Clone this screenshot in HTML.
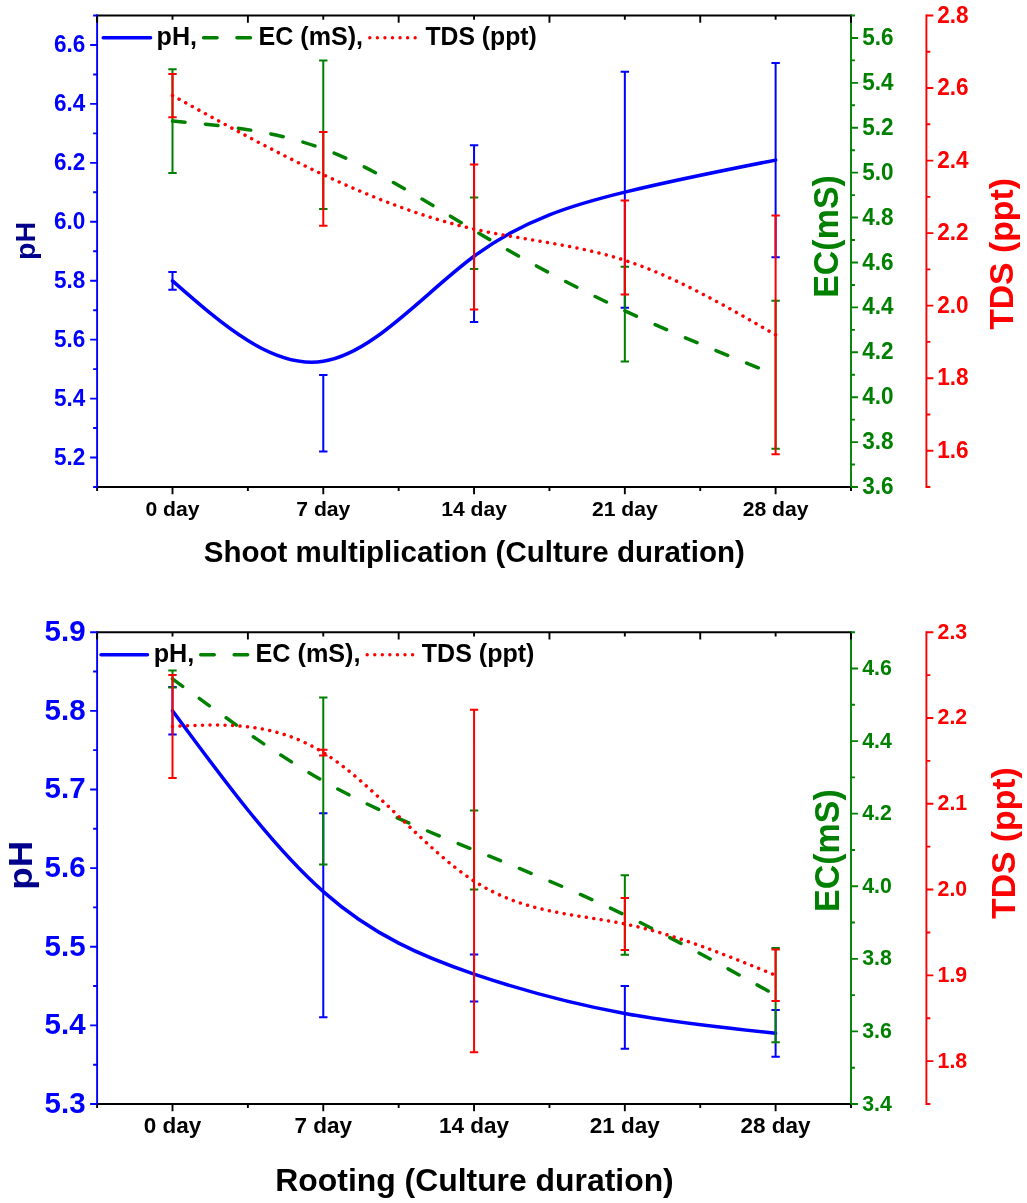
<!DOCTYPE html>
<html><head><meta charset="utf-8"><title>Culture duration charts</title>
<style>html,body{margin:0;padding:0;background:#fff}svg{display:block}</style></head>
<body>
<svg width="1027" height="1203" viewBox="0 0 1027 1203" font-family="'Liberation Sans', sans-serif" font-weight="bold">
<rect width="1027" height="1203" fill="#fff"/>
<path d="M172.5 280.9C222.76 325.03 273.02 369.17 323.28 361.29C373.54 353.42 423.8 293.53 474.06 256.28C524.32 219.02 574.58 204.38 624.84 192.12C675.1 179.87 725.36 169.98 775.62 160.1" fill="none" stroke="#0000ff" stroke-width="3.5" stroke-linecap="round" stroke-linejoin="round"/>
<path d="M172.5 272V289.8M168.3 272h8.4M168.3 289.8h8.4M323.28 375V451.6M319.08 375h8.4M319.08 451.6h8.4M474.06 145.3V322M469.86 145.3h8.4M469.86 322h8.4M624.84 71.8V307.7M620.64 71.8h8.4M620.64 307.7h8.4M775.62 63V257.2M771.42 63h8.4M771.42 257.2h8.4" fill="none" stroke="#0000ff" stroke-width="2"/>
<path d="M172.5 121.05C222.76 125.62 273.02 130.18 323.28 148.9C373.54 167.62 423.8 200.48 474.06 230.38C524.32 260.28 574.58 287.22 624.84 310.78C675.1 334.35 725.36 354.55 775.62 374.75" fill="none" stroke="#008000" stroke-width="3.5" stroke-linecap="round" stroke-linejoin="round" stroke-dasharray="12.6 20.5"/>
<path d="M172.5 69.2V172.9M168.3 69.2h8.4M168.3 172.9h8.4M323.28 60.5V209M319.08 60.5h8.4M319.08 209h8.4M474.06 197.6V269.1M469.86 197.6h8.4M469.86 269.1h8.4M624.84 266.8V361.5M620.64 266.8h8.4M620.64 361.5h8.4M775.62 300.7V448.8M771.42 300.7h8.4M771.42 448.8h8.4" fill="none" stroke="#008000" stroke-width="2"/>
<path d="M172.5 95.55C222.76 123.33 273.02 151.12 323.28 174.7C373.54 198.28 423.8 217.67 474.06 229.11C524.32 240.55 574.58 244.05 624.84 260.36C675.1 276.67 725.36 305.78 775.62 334.9" fill="none" stroke="#ff0000" stroke-width="3.5" stroke-linecap="round" stroke-linejoin="round" stroke-dasharray="0.01 7.5"/>
<path d="M172.5 73.9V117.2M168.3 73.9h8.4M168.3 117.2h8.4M323.28 132V225.8M319.08 132h8.4M319.08 225.8h8.4M474.06 164.6V309.5M469.86 164.6h8.4M469.86 309.5h8.4M624.84 200.5V294.6M620.64 200.5h8.4M620.64 294.6h8.4M775.62 215.5V454.3M771.42 215.5h8.4M771.42 454.3h8.4" fill="none" stroke="#ff0000" stroke-width="2"/>
<path d="M96.15 15.5H851.95M96.15 487H851.95" stroke="#000" stroke-width="1.9"/>
<path d="M97.1 14.55V487.95" stroke="#0000ff" stroke-width="1.9"/>
<path d="M851 14.55V487.95" stroke="#008000" stroke-width="1.9"/>
<path d="M926.4 14.55V487.95" stroke="#ff0000" stroke-width="1.9"/>
<path d="M172.5 487v7.2M172.5 15.5v4.2M323.28 487v7.2M323.28 15.5v4.2M474.06 487v7.2M474.06 15.5v4.2M624.84 487v7.2M624.84 15.5v4.2M775.62 487v7.2M775.62 15.5v4.2M97.11 487v4M97.11 15.5v7.2M247.89 487v4M247.89 15.5v7.2M398.67 487v4M398.67 15.5v7.2M549.45 487v4M549.45 15.5v7.2M700.23 487v4M700.23 15.5v7.2M851.01 487v4M851.01 15.5v7.2" stroke="#000" stroke-width="1.9"/>
<text transform="translate(172.5 515.8) scale(1.007 1)" text-anchor="middle" font-size="21" fill="#000">0 day</text>
<text transform="translate(323.28 515.8) scale(1.007 1)" text-anchor="middle" font-size="21" fill="#000">7 day</text>
<text transform="translate(474.06 515.8) scale(1.007 1)" text-anchor="middle" font-size="21" fill="#000">14 day</text>
<text transform="translate(624.84 515.8) scale(1.007 1)" text-anchor="middle" font-size="21" fill="#000">21 day</text>
<text transform="translate(775.62 515.8) scale(1.007 1)" text-anchor="middle" font-size="21" fill="#000">28 day</text>
<text transform="translate(85.3 464.53) scale(0.98 1)" text-anchor="end" font-size="23" fill="#0000ff">5.2</text>
<text transform="translate(85.3 405.59) scale(0.98 1)" text-anchor="end" font-size="23" fill="#0000ff">5.4</text>
<text transform="translate(85.3 346.66) scale(0.98 1)" text-anchor="end" font-size="23" fill="#0000ff">5.6</text>
<text transform="translate(85.3 287.72) scale(0.98 1)" text-anchor="end" font-size="23" fill="#0000ff">5.8</text>
<text transform="translate(85.3 228.78) scale(0.98 1)" text-anchor="end" font-size="23" fill="#0000ff">6.0</text>
<text transform="translate(85.3 169.84) scale(0.98 1)" text-anchor="end" font-size="23" fill="#0000ff">6.2</text>
<text transform="translate(85.3 110.91) scale(0.98 1)" text-anchor="end" font-size="23" fill="#0000ff">6.4</text>
<text transform="translate(85.3 51.97) scale(0.98 1)" text-anchor="end" font-size="23" fill="#0000ff">6.6</text>
<path d="M97.1 487h-3.95M97.1 457.53h-6.95M97.1 428.06h-3.95M97.1 398.59h-6.95M97.1 369.12h-3.95M97.1 339.66h-6.95M97.1 310.19h-3.95M97.1 280.72h-6.95M97.1 251.25h-3.95M97.1 221.78h-6.95M97.1 192.31h-3.95M97.1 162.84h-6.95M97.1 133.38h-3.95M97.1 103.91h-6.95M97.1 74.44h-3.95M97.1 44.97h-6.95M97.1 15.5h-3.95" stroke="#0000ff" stroke-width="1.9"/>
<text transform="translate(862.3 494.1) scale(0.98 1)" font-size="23" fill="#008000">3.6</text>
<text transform="translate(862.3 449.2) scale(0.98 1)" font-size="23" fill="#008000">3.8</text>
<text transform="translate(862.3 404.29) scale(0.98 1)" font-size="23" fill="#008000">4.0</text>
<text transform="translate(862.3 359.39) scale(0.98 1)" font-size="23" fill="#008000">4.2</text>
<text transform="translate(862.3 314.48) scale(0.98 1)" font-size="23" fill="#008000">4.4</text>
<text transform="translate(862.3 269.58) scale(0.98 1)" font-size="23" fill="#008000">4.6</text>
<text transform="translate(862.3 224.67) scale(0.98 1)" font-size="23" fill="#008000">4.8</text>
<text transform="translate(862.3 179.77) scale(0.98 1)" font-size="23" fill="#008000">5.0</text>
<text transform="translate(862.3 134.86) scale(0.98 1)" font-size="23" fill="#008000">5.2</text>
<text transform="translate(862.3 89.96) scale(0.98 1)" font-size="23" fill="#008000">5.4</text>
<text transform="translate(862.3 45.05) scale(0.98 1)" font-size="23" fill="#008000">5.6</text>
<path d="M851 487h6.95M851 464.55h3.95M851 442.1h6.95M851 419.64h3.95M851 397.19h6.95M851 374.74h3.95M851 352.29h6.95M851 329.83h3.95M851 307.38h6.95M851 284.93h3.95M851 262.48h6.95M851 240.02h3.95M851 217.57h6.95M851 195.12h3.95M851 172.67h6.95M851 150.21h3.95M851 127.76h6.95M851 105.31h3.95M851 82.86h6.95M851 60.4h3.95M851 37.95h6.95M851 15.5h3.95" stroke="#008000" stroke-width="1.9"/>
<text transform="translate(937.3 457.83) scale(0.98 1)" font-size="23" fill="#ff0000">1.6</text>
<text transform="translate(937.3 385.29) scale(0.98 1)" font-size="23" fill="#ff0000">1.8</text>
<text transform="translate(937.3 312.75) scale(0.98 1)" font-size="23" fill="#ff0000">2.0</text>
<text transform="translate(937.3 240.22) scale(0.98 1)" font-size="23" fill="#ff0000">2.2</text>
<text transform="translate(937.3 167.68) scale(0.98 1)" font-size="23" fill="#ff0000">2.4</text>
<text transform="translate(937.3 95.14) scale(0.98 1)" font-size="23" fill="#ff0000">2.6</text>
<text transform="translate(937.3 22.6) scale(0.98 1)" font-size="23" fill="#ff0000">2.8</text>
<path d="M926.4 487h3.95M926.4 450.73h6.95M926.4 414.46h3.95M926.4 378.19h6.95M926.4 341.92h3.95M926.4 305.65h6.95M926.4 269.38h3.95M926.4 233.12h6.95M926.4 196.85h3.95M926.4 160.58h6.95M926.4 124.31h3.95M926.4 88.04h6.95M926.4 51.77h3.95M926.4 15.5h6.95" stroke="#ff0000" stroke-width="1.9"/>
<text transform="translate(35 240.8) rotate(-90) scale(1.03 1)" text-anchor="middle" font-size="27.8" fill="#00008b">pH</text>
<text transform="translate(838 236.5) rotate(-90) scale(0.985 1)" text-anchor="middle" font-size="34.5" fill="#008000">EC(mS)</text>
<text transform="translate(1013.3 254) rotate(-90) scale(1.007 1)" text-anchor="middle" font-size="33.5" fill="#ff0000">TDS (ppt)</text>
<text transform="translate(203.8 562.1) scale(1.018 1)" font-size="29" fill="#000">Shoot multiplication (Culture duration)</text>
<path d="M103.2 37.7H150.6" stroke="#0000ff" stroke-width="3.4" stroke-linecap="round"/>
<text transform="translate(156.6 44.8) scale(0.996 1)" font-size="25.2" fill="#000">pH,</text>
<path d="M203.5 37.7H253.5" stroke="#008000" stroke-width="3.4" stroke-linecap="round" stroke-dasharray="13.6 19.8"/>
<text transform="translate(258.5 44.8) scale(0.996 1)" font-size="25.2" fill="#000">EC (mS),</text>
<path d="M369.8 37.7H415.8" stroke="#ff0000" stroke-width="3.4" stroke-linecap="round" stroke-dasharray="0.01 7.55"/>
<text transform="translate(425.5 44.8) scale(0.982 1)" font-size="25.2" fill="#000">TDS (ppt)</text>
<path d="M172.5 710.75C222.76 778.9 273.02 847.05 323.28 891.58C373.54 936.12 423.8 957.03 474.06 974.07C524.32 991.1 574.58 1004.25 624.84 1013.48C675.1 1022.7 725.36 1028 775.62 1033.3" fill="none" stroke="#0000ff" stroke-width="3.5" stroke-linecap="round" stroke-linejoin="round"/>
<path d="M172.5 687V734.5M168.3 687h8.4M168.3 734.5h8.4M323.28 813.2V1017.2M319.08 813.2h8.4M319.08 1017.2h8.4M474.06 954.5V1001.4M469.86 954.5h8.4M469.86 1001.4h8.4M624.84 986V1048.8M620.64 986h8.4M620.64 1048.8h8.4M775.62 1009.9V1056.7M771.42 1009.9h8.4M771.42 1056.7h8.4" fill="none" stroke="#0000ff" stroke-width="2"/>
<path d="M172.5 678.9C222.76 715.68 273.02 752.45 323.28 780.95C373.54 809.45 423.8 829.67 474.06 850C524.32 870.33 574.58 890.78 624.84 915C675.1 939.22 725.36 967.21 775.62 995.2" fill="none" stroke="#008000" stroke-width="3.5" stroke-linecap="round" stroke-linejoin="round" stroke-dasharray="12.6 20.5"/>
<path d="M172.5 670.4V687.4M168.3 670.4h8.4M168.3 687.4h8.4M323.28 697.5V864.4M319.08 697.5h8.4M319.08 864.4h8.4M474.06 810.4V889.6M469.86 810.4h8.4M469.86 889.6h8.4M624.84 875.2V954.8M620.64 875.2h8.4M620.64 954.8h8.4M775.62 948.1V1042.3M771.42 948.1h8.4M771.42 1042.3h8.4" fill="none" stroke="#008000" stroke-width="2"/>
<path d="M172.5 726.4C222.76 723.89 273.02 721.38 323.28 752.55C373.54 783.72 423.8 848.57 474.06 881.05C524.32 913.53 574.58 913.64 624.84 923.95C675.1 934.26 725.36 954.78 775.62 975.3" fill="none" stroke="#ff0000" stroke-width="3.5" stroke-linecap="round" stroke-linejoin="round" stroke-dasharray="0.01 7.5"/>
<path d="M172.5 674.9V777.9M168.3 674.9h8.4M168.3 777.9h8.4M323.28 749.7V755.4M319.08 749.7h8.4M319.08 755.4h8.4M474.06 709.8V1052.3M469.86 709.8h8.4M469.86 1052.3h8.4M624.84 898V949.9M620.64 898h8.4M620.64 949.9h8.4M775.62 949.6V1001M771.42 949.6h8.4M771.42 1001h8.4" fill="none" stroke="#ff0000" stroke-width="2"/>
<path d="M96.15 632.2H851.95M96.15 1104H851.95" stroke="#000" stroke-width="1.9"/>
<path d="M97.1 631.25V1104.95" stroke="#0000ff" stroke-width="1.9"/>
<path d="M851 631.25V1104.95" stroke="#008000" stroke-width="1.9"/>
<path d="M926.4 631.25V1104.95" stroke="#ff0000" stroke-width="1.9"/>
<path d="M172.5 1104v7.2M172.5 632.2v4.2M323.28 1104v7.2M323.28 632.2v4.2M474.06 1104v7.2M474.06 632.2v4.2M624.84 1104v7.2M624.84 632.2v4.2M775.62 1104v7.2M775.62 632.2v4.2M97.11 1104v4M97.11 632.2v7.2M247.89 1104v4M247.89 632.2v7.2M398.67 1104v4M398.67 632.2v7.2M549.45 1104v4M549.45 632.2v7.2M700.23 1104v4M700.23 632.2v7.2M851.01 1104v4M851.01 632.2v7.2" stroke="#000" stroke-width="1.9"/>
<text transform="translate(172.5 1133)" text-anchor="middle" font-size="22.5" fill="#000">0 day</text>
<text transform="translate(323.28 1133)" text-anchor="middle" font-size="22.5" fill="#000">7 day</text>
<text transform="translate(474.06 1133)" text-anchor="middle" font-size="22.5" fill="#000">14 day</text>
<text transform="translate(624.84 1133)" text-anchor="middle" font-size="22.5" fill="#000">21 day</text>
<text transform="translate(775.62 1133)" text-anchor="middle" font-size="22.5" fill="#000">28 day</text>
<text transform="translate(85.6 1113) scale(0.972 1)" text-anchor="end" font-size="30.4" fill="#0000ff">5.3</text>
<text transform="translate(85.6 1034.37) scale(0.972 1)" text-anchor="end" font-size="30.4" fill="#0000ff">5.4</text>
<text transform="translate(85.6 955.73) scale(0.972 1)" text-anchor="end" font-size="30.4" fill="#0000ff">5.5</text>
<text transform="translate(85.6 877.1) scale(0.972 1)" text-anchor="end" font-size="30.4" fill="#0000ff">5.6</text>
<text transform="translate(85.6 798.47) scale(0.972 1)" text-anchor="end" font-size="30.4" fill="#0000ff">5.7</text>
<text transform="translate(85.6 719.83) scale(0.972 1)" text-anchor="end" font-size="30.4" fill="#0000ff">5.8</text>
<text transform="translate(85.6 641.2) scale(0.972 1)" text-anchor="end" font-size="30.4" fill="#0000ff">5.9</text>
<path d="M97.1 1104h-6.95M97.1 1064.68h-3.95M97.1 1025.37h-6.95M97.1 986.05h-3.95M97.1 946.73h-6.95M97.1 907.42h-3.95M97.1 868.1h-6.95M97.1 828.78h-3.95M97.1 789.47h-6.95M97.1 750.15h-3.95M97.1 710.83h-6.95M97.1 671.52h-3.95M97.1 632.2h-6.95" stroke="#0000ff" stroke-width="1.9"/>
<text transform="translate(862.2 1110.5)" font-size="21.3" fill="#008000">3.4</text>
<text transform="translate(862.2 1037.92)" font-size="21.3" fill="#008000">3.6</text>
<text transform="translate(862.2 965.33)" font-size="21.3" fill="#008000">3.8</text>
<text transform="translate(862.2 892.75)" font-size="21.3" fill="#008000">4.0</text>
<text transform="translate(862.2 820.16)" font-size="21.3" fill="#008000">4.2</text>
<text transform="translate(862.2 747.58)" font-size="21.3" fill="#008000">4.4</text>
<text transform="translate(862.2 674.99)" font-size="21.3" fill="#008000">4.6</text>
<path d="M851 1104h6.95M851 1067.71h3.95M851 1031.42h6.95M851 995.12h3.95M851 958.83h6.95M851 922.54h3.95M851 886.25h6.95M851 849.95h3.95M851 813.66h6.95M851 777.37h3.95M851 741.08h6.95M851 704.78h3.95M851 668.49h6.95M851 632.2h3.95" stroke="#008000" stroke-width="1.9"/>
<text transform="translate(937.6 1067.61)" font-size="21.3" fill="#ff0000">1.8</text>
<text transform="translate(937.6 981.83)" font-size="21.3" fill="#ff0000">1.9</text>
<text transform="translate(937.6 896.05)" font-size="21.3" fill="#ff0000">2.0</text>
<text transform="translate(937.6 810.26)" font-size="21.3" fill="#ff0000">2.1</text>
<text transform="translate(937.6 724.48)" font-size="21.3" fill="#ff0000">2.2</text>
<text transform="translate(937.6 638.7)" font-size="21.3" fill="#ff0000">2.3</text>
<path d="M926.4 1104h3.95M926.4 1061.11h6.95M926.4 1018.22h3.95M926.4 975.33h6.95M926.4 932.44h3.95M926.4 889.55h6.95M926.4 846.65h3.95M926.4 803.76h6.95M926.4 760.87h3.95M926.4 717.98h6.95M926.4 675.09h3.95M926.4 632.2h6.95" stroke="#ff0000" stroke-width="1.9"/>
<text transform="translate(31.9 865.2) rotate(-90) scale(1.1 1)" text-anchor="middle" font-size="33.4" fill="#00008b">pH</text>
<text transform="translate(838.6 850.6) rotate(-90) scale(0.985 1)" text-anchor="middle" font-size="34.5" fill="#008000">EC(mS)</text>
<text transform="translate(1014.8 843.1) rotate(-90) scale(1.007 1)" text-anchor="middle" font-size="33.5" fill="#ff0000">TDS (ppt)</text>
<text transform="translate(275.3 1190.6) scale(1.046 1)" font-size="30.5" fill="#000">Rooting (Culture duration)</text>
<path d="M101 654.8H147.5" stroke="#0000ff" stroke-width="3.4" stroke-linecap="round"/>
<text transform="translate(153.7 662)" font-size="25.2" fill="#000">pH,</text>
<path d="M200.7 654.8H250.7" stroke="#008000" stroke-width="3.4" stroke-linecap="round" stroke-dasharray="13.6 19.8"/>
<text transform="translate(255.5 662)" font-size="25.2" fill="#000">EC (mS),</text>
<path d="M367.2 654.8H413.2" stroke="#ff0000" stroke-width="3.4" stroke-linecap="round" stroke-dasharray="0.01 7.55"/>
<text transform="translate(421.8 662) scale(0.994 1)" font-size="25.2" fill="#000">TDS (ppt)</text>
</svg>
</body></html>
